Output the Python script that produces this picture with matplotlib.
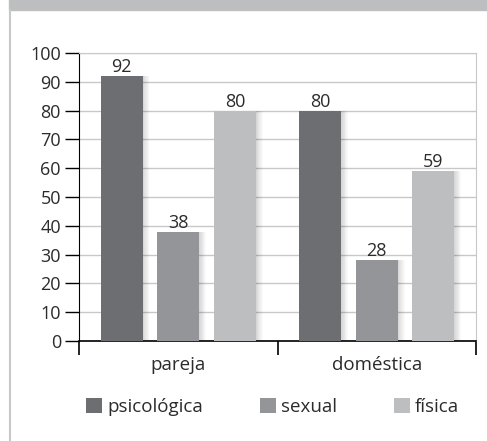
import matplotlib.pyplot as plt
import numpy as np
from matplotlib.patches import Rectangle
from matplotlib.lines import Line2D

categories = ['pareja', 'doméstica']
series_names = ['psicológica', 'sexual', 'física']
psicologica = [92, 80]
sexual = [38, 28]
fisica = [80, 59]
colors = ['#6d6e71', '#939598', '#bcbec0']

plt.rcParams['font.family'] = ['Open Sans', 'DejaVu Sans']

fig = plt.figure(figsize=(4.87, 4.41), dpi=100)

# panel decoration: grey band on top and thin line on the left
fig.patches.append(Rectangle((9 / 487, 1 - 10 / 441), 1, 10 / 441,
                             transform=fig.transFigure, color='#bcbec0', zorder=0))
fig.lines.append(Line2D([10 / 487, 10 / 487], [0, 1 - 10 / 441],
                        transform=fig.transFigure, color='#c8c8c8', lw=1.5))

ax = fig.add_axes([79 / 487, 1 - 341 / 441, (476 - 79) / 487, (341 - 53) / 441])

x = np.arange(len(categories))
width = 0.212
offsets = [-0.285, 0.0, 0.285]
all_series = [psicologica, sexual, fisica]

for vals, off, col, name in zip(all_series, offsets, colors, series_names):
    # soft shadow on the right of each bar
    for k in range(8):
        ax.bar(x + off + width * 0.02 * (k + 1), vals, width, color='black',
               alpha=0.018, zorder=2, linewidth=0)
    bars = ax.bar(x + off, vals, width, color=col, label=name, zorder=3, linewidth=0)
    ax.bar_label(bars, padding=0, fontsize=13, color='#2b2b2b')

ax.set_xlim(-0.5, 1.5)
ax.set_ylim(0, 100)
ax.set_yticks(np.arange(0, 101, 10))
ax.grid(axis='y', color='#c8c8c8', linewidth=1, zorder=0)
ax.set_axisbelow(True)

ax.set_xticks([-0.5, 0.5, 1.5])
ax.set_xticklabels([])
ax.set_xticks(x, minor=True)
ax.set_xticklabels(categories, minor=True, fontsize=13.5, color='#2b2b2b')
ax.tick_params(axis='x', which='minor', length=0, pad=11)
ax.tick_params(axis='x', which='major', length=10, width=1.2, direction='out')
ax.tick_params(axis='y', length=10, width=1, direction='out', labelsize=13,
               labelcolor='#2b2b2b', pad=3)

for s in ['top', 'right']:
    ax.spines[s].set_color('#c8c8c8')
ax.spines['left'].set_color('black')
ax.spines['bottom'].set_color('black')
ax.spines['bottom'].set_linewidth(1.2)

fig.legend(loc='center', bbox_to_anchor=(0.56, 1 - 407 / 441), ncol=3, frameon=False,
           fontsize=13.5, handlelength=0.85, handleheight=0.85, handletextpad=0.3,
           columnspacing=3.0, labelcolor='#2b2b2b')

fig.savefig('out.png', dpi=100, facecolor='white')
